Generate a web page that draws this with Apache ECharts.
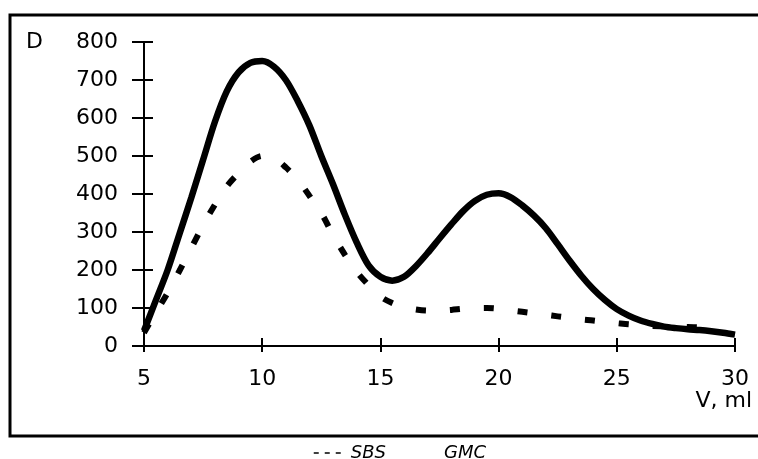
<!DOCTYPE html>
<html lang="en">
<head>
    <meta charset="UTF-8">
    <title>D vs V</title>
    <script src="https://cdn.jsdelivr.net/npm/echarts@6/dist/echarts.min.js"></script>
    <style>
        body { margin: 0; background: #fff; }
    </style>
</head>
<body>
    <div id="chart" style="width: 758px; height: 459px;"></div>
    <script>
        // V, ml - shared x positions
        var volume = [5, 5.5, 6, 6.5, 7, 7.5, 8, 8.5, 9, 9.5, 10, 10.5, 11, 11.5, 12, 12.5, 13, 13.5, 14, 14.5, 15, 15.5, 16, 16.5, 17, 17.5, 18, 18.5, 19, 19.5, 20, 20.5, 21, 21.5, 22, 22.5, 23, 23.5, 24, 24.5, 25, 25.5, 26, 26.5, 27, 27.5, 28, 28.5, 29, 29.5, 30]

        // GMC - solid curve
        var dGMC = [40, 120, 200, 295, 390, 490, 590, 670, 720, 745, 750, 735, 700, 645, 580, 500, 425, 345, 272, 212, 182, 172, 182, 210, 245, 283, 320, 355, 382, 398, 402, 392, 370, 343, 310, 268, 225, 185, 150, 121, 97, 80, 67, 58, 51, 47, 44, 42, 39, 35, 30]

        // SBS - dashed curve (stops near 29.3)
        var dSBS = [35, 88, 140, 198, 258, 318, 372, 420, 455, 485, 500, 495, 470, 438, 395, 350, 292, 240, 195, 160, 130, 113, 102, 96, 93, 93, 95, 98, 100, 100, 98, 94, 90, 86, 82, 78, 74, 70, 67, 63, 60, 57, 55, 53, 52, 51, 50, 49, 48]

        var xMin = 5, xMax = 30, xStep = 5
        var yMin = 0, yMax = 800, yStep = 100

        function pairs(xs, ys) {
            return ys.map(function (y, i) { return [xs[i], y] })
        }

        var chart = echarts.init(document.getElementById('chart'))

        var fontName = 'DejaVu Sans, sans-serif'
        var axisFont = { fontFamily: fontName, fontSize: 22, color: '#000' }

        var option = {
            animation: false,
            backgroundColor: '#fff',
            grid: { left: 144, right: 23, top: 42, bottom: 113 },
            legend: {
                top: 439,
                left: 308,
                itemGap: 20,
                itemWidth: 32,
                itemHeight: 10,
                textStyle: { fontFamily: fontName, fontStyle: 'italic', fontSize: 18, color: '#000' },
                data: [
                    { name: 'SBS', itemStyle: { opacity: 0 }, lineStyle: { color: '#000', width: 1.5, type: [5, 6], cap: 'butt' } },
                    { name: 'GMC', itemStyle: { opacity: 0 }, lineStyle: { opacity: 0 } }
                ]
            },
            xAxis: [
                {
                    type: 'value', min: xMin, max: xMax, interval: xStep,
                    splitLine: { show: false },
                    axisLine: { lineStyle: { color: '#000', width: 2 } },
                    axisTick: { length: 6, lineStyle: { color: '#000', width: 2 } },
                    axisLabel: Object.assign({ margin: 22 }, axisFont)
                },
                {
                    type: 'value', min: xMin, max: xMax, interval: xStep, position: 'bottom',
                    splitLine: { show: false },
                    axisLine: { show: false },
                    axisTick: { inside: true, length: 8, lineStyle: { color: '#000', width: 2 } },
                    axisLabel: { show: false }
                }
            ],
            yAxis: [
                {
                    type: 'value', min: yMin, max: yMax, interval: yStep,
                    splitLine: { show: false },
                    axisLine: { show: true, lineStyle: { color: '#000', width: 2 } },
                    axisTick: { show: true, length: 12, lineStyle: { color: '#000', width: 2 } },
                    axisLabel: Object.assign({ margin: 26 }, axisFont)
                },
                {
                    type: 'value', min: yMin, max: yMax, interval: yStep, position: 'left',
                    splitLine: { show: false },
                    axisLine: { show: false },
                    axisTick: { show: true, inside: true, length: 9, lineStyle: { color: '#000', width: 2 } },
                    axisLabel: { show: false }
                }
            ],
            graphic: [
                {
                    type: 'rect',
                    shape: { x: 10, y: 15, width: 800, height: 421 },
                    style: { fill: 'none', stroke: '#000', lineWidth: 3 },
                    silent: true
                },
                {
                    type: 'text', left: 26, top: 31,
                    style: { text: 'D', font: '22px DejaVu Sans, sans-serif', fill: '#000' }
                },
                {
                    type: 'text', right: 6, top: 390,
                    style: { text: 'V, ml', font: '22px DejaVu Sans, sans-serif', fill: '#000' }
                }
            ],
            series: [
                {
                    name: 'GMC',
                    type: 'line',
                    smooth: 0.3,
                    symbol: 'none',
                    data: pairs(volume, dGMC),
                    lineStyle: { color: '#000', width: 6.5 }
                },
                {
                    name: 'SBS',
                    type: 'line',
                    smooth: 0.3,
                    symbol: 'none',
                    data: pairs(volume, dSBS),
                    lineStyle: { color: '#000', width: 6, type: [10, 24], cap: 'butt' }
                }
            ]
        }

        chart.setOption(option)
    </script>
</body>
</html>
